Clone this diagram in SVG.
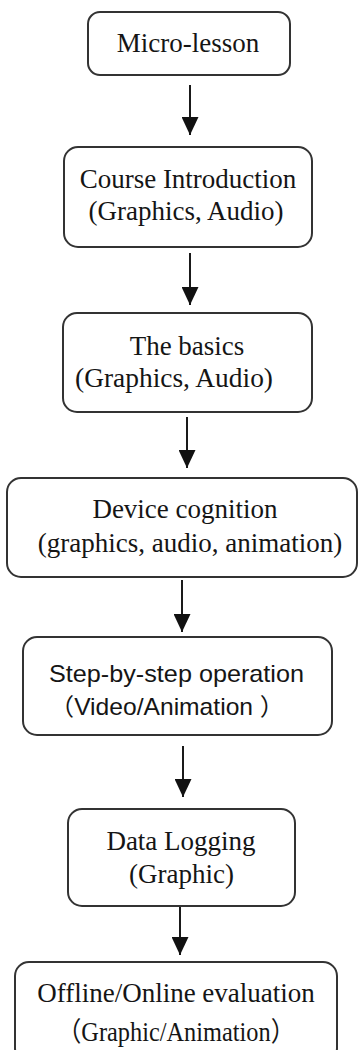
<svg xmlns="http://www.w3.org/2000/svg" width="358" height="1050" viewBox="0 0 358 1050">
  <style>
    .box { fill: #ffffff; stroke: #333333; stroke-width: 2; }
    .serif { font-family: "Liberation Serif", "Noto Sans CJK SC", serif; font-size: 27px; fill: #151515; text-anchor: middle; }
    .sans { font-family: "Liberation Sans", "Noto Sans CJK SC", sans-serif; font-size: 24px; fill: #151515; text-anchor: middle; }
    .edge { stroke: #1a1a1a; stroke-width: 2; fill: none; marker-end: url(#head); }
  </style>
  <defs>
    <marker id="head" markerUnits="userSpaceOnUse" markerWidth="18" markerHeight="17" refX="18" refY="8.5" orient="auto">
      <path d="M0,0 L18,8.5 L0,17 Z" fill="#111111"/>
    </marker>
  </defs>

  <rect width="358" height="1050" fill="#ffffff"/>

  <!-- connectors -->
  <g id="connectors">
    <line class="edge" x1="190" y1="85" x2="190" y2="135"/>
    <line class="edge" x1="190" y1="253" x2="190" y2="305"/>
    <line class="edge" x1="187" y1="417" x2="187" y2="468"/>
    <line class="edge" x1="182" y1="580" x2="182" y2="632"/>
    <line class="edge" x1="183" y1="746" x2="183" y2="797"/>
    <line class="edge" x1="180" y1="906" x2="180" y2="955"/>
  </g>

  <g id="micro-lesson">
    <rect class="box" x="88" y="12" width="202" height="63" rx="12"/>
    <text class="serif" x="188" y="52">Micro-lesson</text>
  </g>

  <g id="course-introduction">
    <rect class="box" x="64" y="147" width="248" height="100" rx="14"/>
    <text class="serif" x="188" y="188">Course Introduction</text>
    <text class="serif" x="186" y="220">(Graphics, Audio)</text>
  </g>

  <g id="the-basics">
    <rect class="box" x="63" y="313" width="249" height="99" rx="14"/>
    <text class="serif" x="187" y="355">The basics</text>
    <text class="serif" x="174" y="387" textLength="198" lengthAdjust="spacingAndGlyphs">(Graphics, Audio)</text>
  </g>

  <g id="device-cognition">
    <rect class="box" x="7" y="478" width="350" height="99" rx="14"/>
    <text class="serif" x="185" y="518">Device cognition</text>
    <text class="serif" x="190" y="552">(graphics, audio, animation)</text>
  </g>

  <g id="step-by-step">
    <rect class="box" x="23" y="637" width="309" height="98" rx="14"/>
    <text class="sans" x="176.5" y="682" textLength="255" lengthAdjust="spacingAndGlyphs">Step-by-step operation</text>
    <text class="sans" x="167" y="715" textLength="235" lengthAdjust="spacingAndGlyphs">（Video/Animation ）</text>
  </g>

  <g id="data-logging">
    <rect class="box" x="68" y="809" width="227" height="97" rx="14"/>
    <text class="serif" x="181" y="850">Data Logging</text>
    <text class="serif" x="181.5" y="883">(Graphic)</text>
  </g>

  <g id="evaluation">
    <rect class="box" x="15" y="962" width="322" height="100" rx="14"/>
    <text class="serif" x="176" y="1002">Offline/Online evaluation</text>
    <text class="serif" x="176" y="1041" textLength="238" lengthAdjust="spacingAndGlyphs">（Graphic/Animation）</text>
  </g>
</svg>
